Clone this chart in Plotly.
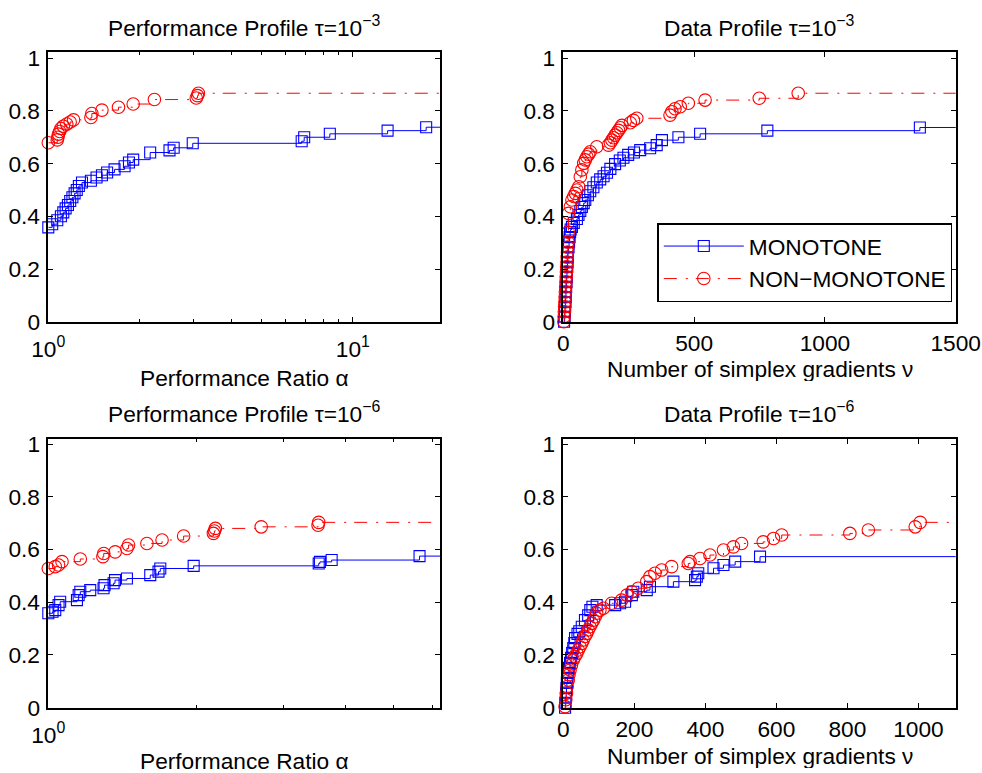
import plotly.graph_objects as go

# ---------------- Performance profile, tau = 1e-3 ----------------
pp3_mono_alpha = [1.00, 1.03, 1.07, 1.10, 1.12, 1.14, 1.16, 1.18, 1.20, 1.22, 1.24, 1.26,
                  1.29, 1.38, 1.44, 1.50, 1.56, 1.65, 1.78, 1.84, 1.90, 2.16, 2.50, 2.58,
                  2.98, 6.79, 6.92, 8.40, 13.0, 17.4]
pp3_mono_frac = [0.358, 0.370, 0.385, 0.400, 0.415, 0.430, 0.443, 0.458, 0.472, 0.487, 0.500, 0.515,
                 0.528, 0.535, 0.547, 0.556, 0.566, 0.578, 0.590, 0.604, 0.615, 0.642, 0.650, 0.660,
                 0.677, 0.685, 0.700, 0.713, 0.725, 0.738]
pp3_nonmono_alpha = [1.00, 1.07, 1.075, 1.08, 1.09, 1.10, 1.12, 1.15, 1.18, 1.21, 1.38, 1.39,
                     1.50, 1.70, 1.90, 2.23, 3.06, 3.09, 3.11]
pp3_nonmono_frac = [0.679, 0.690, 0.700, 0.712, 0.722, 0.733, 0.742, 0.750, 0.758, 0.766, 0.775, 0.790,
                    0.803, 0.814, 0.826, 0.843, 0.849, 0.858, 0.867]

# ---------------- Data profile, tau = 1e-3 ----------------
dp3_mono_nu = [3, 5, 6, 7, 8, 9, 10, 11, 12, 13, 14, 15, 16, 17, 18, 20, 22, 24, 26, 28,
               33, 40, 52, 58, 65, 71, 78, 84, 94, 103, 115, 128, 141, 154, 167, 180, 198,
               216, 230, 248, 270, 294, 332, 357, 377, 440, 523, 780, 1363]
dp3_mono_frac = [0.000, 0.019, 0.038, 0.057, 0.075, 0.094, 0.113, 0.132, 0.151, 0.170, 0.189, 0.208,
                 0.226, 0.245, 0.264, 0.283, 0.302, 0.321, 0.340, 0.350,
                 0.360, 0.375, 0.390, 0.405, 0.420, 0.435, 0.450, 0.462, 0.480, 0.495, 0.510, 0.528,
                 0.540, 0.552, 0.565, 0.580, 0.598, 0.612, 0.622, 0.633, 0.642, 0.651, 0.658, 0.670,
                 0.689, 0.700, 0.713, 0.725, 0.737]
dp3_nonmono_nu = [2, 3, 4, 5, 6, 7, 8, 9, 10, 11, 12, 13, 14, 15, 16, 17, 18, 19, 20, 27,
                  33, 40, 46, 52, 59, 65, 71, 78, 84, 90, 97, 103, 128, 173, 180, 186, 192, 198,
                  205, 211, 218, 224, 256, 268, 281, 408, 415, 427, 447, 478, 542, 749, 898]
dp3_nonmono_frac = [0.000, 0.019, 0.038, 0.057, 0.075, 0.094, 0.113, 0.132, 0.151, 0.170, 0.189, 0.208,
                    0.226, 0.245, 0.264, 0.283, 0.302, 0.340, 0.411, 0.436,
                    0.462, 0.475, 0.487, 0.500, 0.512, 0.550, 0.576, 0.601, 0.614, 0.626, 0.636, 0.645,
                    0.664, 0.670, 0.679, 0.689, 0.698, 0.708, 0.717, 0.726, 0.736, 0.745, 0.755, 0.764,
                    0.772, 0.784, 0.797, 0.808, 0.816, 0.829, 0.841, 0.848, 0.867]

# ---------------- Performance profile, tau = 1e-6 ----------------
pp6_mono_alpha = [1.00, 1.02, 1.033, 1.049, 1.057, 1.143, 1.152, 1.161, 1.216, 1.294, 1.30, 1.356,
                  1.365, 1.443, 1.609, 1.672, 1.686, 1.97, 3.53, 3.55, 3.75, 5.65]
pp6_mono_frac = [0.358, 0.364, 0.370, 0.389, 0.402, 0.408, 0.427, 0.440, 0.446, 0.453, 0.465, 0.472,
                 0.484, 0.490, 0.503, 0.516, 0.528, 0.538, 0.547, 0.553, 0.560, 0.575]
pp6_nonmono_alpha = [1.00, 1.033, 1.049, 1.066, 1.161, 1.29, 1.295, 1.366, 1.443, 1.454, 1.584, 1.70,
                     1.88, 2.16, 2.17, 2.18, 2.70, 3.52, 3.53]
pp6_nonmono_frac = [0.528, 0.535, 0.541, 0.554, 0.564, 0.573, 0.585, 0.591, 0.604, 0.617, 0.623, 0.636,
                    0.651, 0.661, 0.670, 0.680, 0.686, 0.692, 0.703]

# ---------------- Data profile, tau = 1e-6 ----------------
dp6_mono_nu = [5, 6, 7, 8, 9, 10, 12, 14, 16, 19, 22, 25, 28, 31, 33, 40, 45, 52, 61, 70,
               76, 82, 94, 146, 160, 174, 193, 197, 235, 244, 310, 371, 376, 380, 423, 451, 484, 554]
dp6_mono_frac = [0.000, 0.019, 0.038, 0.057, 0.075, 0.094, 0.113, 0.132, 0.151, 0.170, 0.189, 0.208,
                 0.226, 0.245, 0.264, 0.280, 0.290, 0.307, 0.332, 0.350, 0.370, 0.383, 0.389, 0.389,
                 0.396, 0.402, 0.427, 0.440, 0.446, 0.459, 0.478, 0.484, 0.497, 0.510, 0.529, 0.541,
                 0.554, 0.573]
dp6_nonmono_nu = [5, 7, 9, 11, 14, 16, 19, 23, 28, 33, 38, 42, 47, 52, 56, 61, 66, 70, 75, 80,
                  85, 90, 94, 103, 113, 136, 164, 179, 193, 211, 235, 244, 258, 277, 305, 352, 357,
                  385, 413, 451, 479, 502, 563, 592, 615, 807, 859, 991, 1005]
dp6_nonmono_frac = [0.004, 0.030, 0.055, 0.080, 0.105, 0.125, 0.143, 0.162, 0.181, 0.194, 0.206, 0.219,
                    0.231, 0.244, 0.257, 0.270, 0.282, 0.295, 0.307, 0.320, 0.332, 0.345, 0.358, 0.370,
                    0.377, 0.396, 0.408, 0.427, 0.440, 0.453, 0.478, 0.497, 0.510, 0.522, 0.535, 0.547,
                    0.554, 0.566, 0.579, 0.598, 0.610, 0.623, 0.629, 0.642, 0.655, 0.661, 0.674, 0.686,
                    0.703]

TITLES = ["Performance Profile \u03c4=10<sup>\u22123</sup>",
          "Data Profile \u03c4=10<sup>\u22123</sup>",
          "Performance Profile \u03c4=10<sup>\u22126</sup>",
          "Data Profile \u03c4=10<sup>\u22126</sup>"]
XLABELS = ["Performance Ratio \u03b1", "Number of simplex gradients \u03bd",
           "Performance Ratio \u03b1", "Number of simplex gradients \u03bd"]
SERIES = ["MONOTONE", "NON\u2212MONOTONE"]

W, H = 982, 773
FONT = "Liberation Sans, Arial, Helvetica, sans-serif"
FS = 22.7
BLUE = "rgb(0,0,255)"
RED = "rgb(255,0,0)"
DASHDOT = "13px,9px,2px,8px"
SQ_SIZE, CI_SIZE = 11, 12.5

# axis boxes in pixels: (left, right) and (top, bottom)
COLS = [(48.3, 440.0), (563.3, 955.7)]
ROWS = [(52.0, 321.7), (439.3, 707.7)]

fig = go.Figure()

panels = [
    (pp3_mono_alpha, pp3_mono_frac, pp3_nonmono_alpha, pp3_nonmono_frac, "x", "y"),
    (dp3_mono_nu, dp3_mono_frac, dp3_nonmono_nu, dp3_nonmono_frac, "x2", "y2"),
    (pp6_mono_alpha, pp6_mono_frac, pp6_nonmono_alpha, pp6_nonmono_frac, "x3", "y3"),
    (dp6_mono_nu, dp6_mono_frac, dp6_nonmono_nu, dp6_nonmono_frac, "x4", "y4"),
]
x_ends = [25.0, 1600.0, 7.0, 1200.0]

for (bx, by, rx, ry, xa, ya), xend in zip(panels, x_ends):
    for xs, ys, col, dash, sym, size in [
        (bx, by, BLUE, "solid", "square-open", SQ_SIZE),
        (rx, ry, RED, DASHDOT, "circle-open", CI_SIZE),
    ]:
        # staircase that keeps going to the right edge of the axes
        fig.add_trace(go.Scatter(
            x=list(xs) + [xend], y=list(ys) + [ys[-1]], mode="lines",
            line=dict(color=col, width=1, dash=dash, shape="hv"),
            xaxis=xa, yaxis=ya, showlegend=False, hoverinfo="skip"))
        fig.add_trace(go.Scatter(
            x=xs, y=ys, mode="markers",
            marker=dict(symbol=sym, size=size, color=col, line=dict(color=col, width=1.1)),
            xaxis=xa, yaxis=ya, showlegend=False, cliponaxis=False))

# legend entries
for name, col, dash, sym, size in [
    (SERIES[0], BLUE, "solid", "square-open", SQ_SIZE),
    (SERIES[1], RED, DASHDOT, "circle-open", CI_SIZE),
]:
    fig.add_trace(go.Scatter(
        x=[None], y=[None], mode="lines+markers", name=name,
        line=dict(color=col, width=1, dash=dash),
        marker=dict(symbol=sym, size=size, color=col, line=dict(color=col, width=1.1)),
        xaxis="x2", yaxis="y2"))

common_axis = dict(
    automargin=False,
    showline=True, linecolor="black", linewidth=1.5, mirror="ticks",
    ticks="inside", ticklen=5, tickwidth=1, tickcolor="black",
    showgrid=False, zeroline=False,
    tickfont=dict(family=FONT, size=FS, color="black"),
)

def xdom(c):
    return [COLS[c][0] / W, COLS[c][1] / W]

def ydom(r):
    return [1 - ROWS[r][1] / H, 1 - ROWS[r][0] / H]

yaxis_cfg = dict(common_axis, tickmode="array", tickvals=[0, 0.2, 0.4, 0.6, 0.8, 1],
                 ticktext=["0", "0.2", "0.4", "0.6", "0.8", "1"], ticklabelstandoff=2)

fig.update_layout(
    width=W, height=H, margin=dict(l=0, r=0, t=0, b=0, autoexpand=False),
    paper_bgcolor="white", plot_bgcolor="white",
    font=dict(family=FONT, size=FS, color="black"),
    xaxis=dict(common_axis, type="log", range=[0, 1.286], domain=xdom(0), anchor="y",
               tickmode="array", tickvals=[1, 10],
               ticktext=["10<sup>0</sup>", "10<sup>1</sup>"], ticklabelstandoff=6,
               minor=dict(tickmode="array", tickvals=[2, 3, 4, 5, 6, 7, 8, 9],
                          ticks="inside", ticklen=3, tickcolor="black", tickwidth=1)),
    yaxis=dict(yaxis_cfg, range=[0, 1.0235], domain=ydom(0), anchor="x"),
    xaxis2=dict(common_axis, range=[0, 1500], domain=xdom(1), anchor="y2",
                tickmode="array", tickvals=[0, 500, 1000, 1500]),
    yaxis2=dict(yaxis_cfg, range=[0, 1.0235], domain=ydom(0), anchor="x2"),
    xaxis3=dict(common_axis, type="log", range=[0, 0.7935], domain=xdom(0), anchor="y3",
                tickmode="array", tickvals=[1], ticktext=["10<sup>0</sup>"], ticklabelstandoff=6,
                minor=dict(tickmode="array", tickvals=[2, 3, 4, 5, 6],
                           ticks="inside", ticklen=3, tickcolor="black", tickwidth=1)),
    yaxis3=dict(yaxis_cfg, range=[0, 1.018], domain=ydom(1), anchor="x3"),
    xaxis4=dict(common_axis, range=[0, 1105], domain=xdom(1), anchor="y4",
                tickmode="array", tickvals=[0, 200, 400, 600, 800, 1000]),
    yaxis4=dict(yaxis_cfg, range=[0, 1.018], domain=ydom(1), anchor="x4"),
    legend=dict(x=657.3 / W, y=1 - 223.3 / H, xanchor="left", yanchor="top",
                bordercolor="black", borderwidth=1.5, bgcolor="white",
                font=dict(family=FONT, size=FS, color="black"), itemwidth=80),
)

# panel titles and x-axis labels
title_y = [26.5, 26.5, 412.5, 412.5]
label_y = [377.0, 368.0, 760.0, 755.0]
for i in range(4):
    c = i % 2
    cx = (COLS[c][0] + COLS[c][1]) / 2 / W
    fig.add_annotation(text=TITLES[i], x=cx, y=1 - title_y[i] / H, xref="paper", yref="paper",
                       xanchor="center", yanchor="middle", showarrow=False,
                       font=dict(family=FONT, size=FS, color="black"))
    fig.add_annotation(text=XLABELS[i], x=cx, y=1 - label_y[i] / H, xref="paper", yref="paper",
                       xanchor="center", yanchor="middle", showarrow=False, height=25,
                       font=dict(family=FONT, size=FS, color="black"))

fig.write_html("out.html")
